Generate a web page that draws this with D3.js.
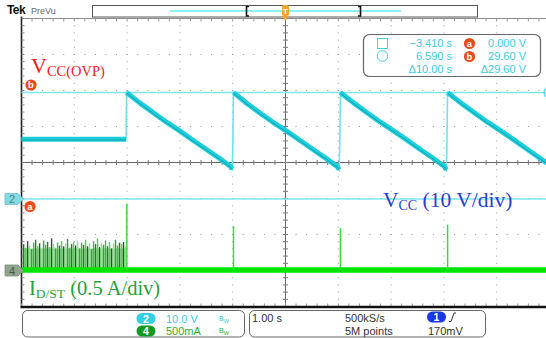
<!DOCTYPE html>
<html><head><meta charset="utf-8">
<script src="https://cdn.jsdelivr.net/npm/d3@7"></script>
<style>html,body{margin:0;padding:0;background:#fff;overflow:hidden}svg{display:block}</style>
</head><body>
<svg id="c" width="546" height="338"></svg>
<script>
// ---------- data ----------
const vccFlat = [[-5, 16.6], [-3.02, 16.6]];
const vccCycles = [
  [[-3.01,29.6],[-2.76,26.7],[-2.51,24.0],[-2.26,21.4],[-2.01,19.0],[-1.76,16.4],[-1.51,13.9],[-1.26,11.4],[-1.04,9.0],[-1.01,8.3]],
  [[-0.985,29.6],[-0.735,26.6],[-0.485,23.9],[-0.235,21.3],[0.015,18.9],[0.265,16.4],[0.515,13.8],[0.765,11.3],[0.985,9.0],[1.015,8.2]],
  [[1.04,29.6],[1.29,26.7],[1.54,24.0],[1.79,21.4],[2.04,19.0],[2.29,16.5],[2.54,13.9],[2.79,11.4],[3.01,9.0],[3.045,8.1]],
  [[3.07,29.6],[3.32,26.7],[3.57,24.0],[3.82,21.4],[4.07,19.0],[4.32,16.5],[4.57,13.9],[4.82,11.3],[5.0,9.6]]
];
const vccKinks = [[-1.0,13.5],[1.025,13.4],[3.055,13.5]];
const idSpikes = [[-3.005,0.92],[-0.985,0.61],[1.04,0.58],[3.07,0.63]];
const idNoise = [0.36,0.31,0.40,0.34,0.29,0.38,0.42,0.33,0.37,0.30,0.41,0.35,0.39,0.32,0.44,0.36,0.30,0.38,0.34,0.40,0.33,0.37,0.43,0.31,0.36,0.39,0.34,0.41,0.30,0.38,0.35,0.42,0.33,0.37,0.29,0.40,0.36,0.44,0.32,0.38,0.35,0.41,0.33,0.39,0.30,0.37,0.42,0.34,0.38,0.36,0.39,0.33];
const idNoiseSpan = [-4.96, -3.03];
const cursorLevels = [0, 29.6];
const readoutTimes = ["\u22123.410 s", "6.590 s", "\u039410.00 s"];
const readoutVolts = ["0.000 V", "29.60 V", "\u039429.60 V"];
const chLabels = ["10.0 V", "500mA"];
const acqLabels = ["1.00 s", "500kS/s", "5M points", "170mV"];

// ---------- setup ----------
const W = 546, H = 338;
const svg = d3.select('#c');
const gl = 21.5, gr = 549.5, gt = 18.5, gb = 306.5;
const x = d3.scaleLinear().domain([-5, 5]).range([gl, gr]);
const yDiv = d3.scaleLinear().domain([4, -4]).range([gt, gb]);
const yV = d3.scaleLinear().domain([0, 40]).range([199, 55]);
const yI = d3.scaleLinear().domain([0, 0.5]).range([270, 234]);
const sans = "'Liberation Sans', Arial, sans-serif";
const serif = "'Liberation Serif', 'Times New Roman', serif";

// ---------- graticule ----------
const grid = svg.append('g');
const minorX = d3.range(-25, 26).map(k => x(k / 5));
const minorY = d3.range(-20, 21).map(k => yDiv(k / 5));
[-4,-3,-2,-1,1,2,3,4].forEach(i => {
  minorY.forEach(yy => grid.append('rect').attr('x', x(i) - 0.5).attr('y', yy - 0.5).attr('width', 1).attr('height', 1).attr('fill', '#9a9a9a'));
});
[-3,-2,-1,1,2,3].forEach(j => {
  minorX.forEach(xx => grid.append('rect').attr('x', xx - 0.5).attr('y', yDiv(j) - 0.5).attr('width', 1).attr('height', 1).attr('fill', '#9a9a9a'));
});
grid.append('line').attr('x1', gl).attr('x2', W).attr('y1', gt).attr('y2', gt).attr('stroke', '#8a8a8a').attr('stroke-width', 1);
minorX.forEach(xx => grid.append('line').attr('x1', xx).attr('x2', xx).attr('y1', gt).attr('y2', gt + 3).attr('stroke', '#999'));
grid.append('line').attr('x1', gl).attr('x2', W).attr('y1', yDiv(0)).attr('y2', yDiv(0)).attr('stroke', '#666').attr('stroke-width', 1);
grid.append('line').attr('x1', x(0)).attr('x2', x(0)).attr('y1', gt).attr('y2', gb).attr('stroke', '#666').attr('stroke-width', 1);
minorX.forEach(xx => grid.append('line').attr('x1', xx).attr('x2', xx).attr('y1', yDiv(0) - 2.5).attr('y2', yDiv(0) + 2.5).attr('stroke', '#777'));
minorY.forEach(yy => grid.append('line').attr('x1', x(0) - 2.5).attr('x2', x(0) + 2.5).attr('y1', yy).attr('y2', yy).attr('stroke', '#777'));
grid.append('line').attr('x1', gl).attr('x2', gl).attr('y1', gt - 2).attr('y2', gb).attr('stroke', '#222').attr('stroke-width', 1.6);
minorY.forEach(yy => grid.append('line').attr('x1', gl).attr('x2', gl + 3).attr('y1', yy).attr('y2', yy).attr('stroke', '#888'));
minorX.forEach(xx => grid.append('line').attr('x1', xx).attr('x2', xx).attr('y1', gb - 3).attr('y2', gb).attr('stroke', '#999'));
grid.append('line').attr('x1', gl - 1).attr('x2', W).attr('y1', gb + 0.5).attr('y2', gb + 0.5).attr('stroke', '#111').attr('stroke-width', 2.4);

// ---------- cursors ----------
cursorLevels.forEach(v => svg.append('line').attr('x1', gl).attr('x2', W).attr('y1', yV(v)).attr('y2', yV(v))
  .attr('stroke', '#7de8f1').attr('stroke-width', 1.4));

// ---------- current trace (ch4) ----------
const cur = svg.append('g');
cur.append('rect').attr('x', x(idNoiseSpan[0])).attr('y', yI(0.3)).attr('width', x(idNoiseSpan[1]) - x(idNoiseSpan[0]))
  .attr('height', yI(0) - yI(0.3)).attr('fill', '#9fe69f');
const noiseColors = ['#237a23', '#55cc55', '#1a5e1a', '#8fe08f', '#2f9f2f', '#40b840'];
idNoise.forEach((h, i) => {
  const t = idNoiseSpan[0] + i * (idNoiseSpan[1] - idNoiseSpan[0]) / (idNoise.length - 1);
  cur.append('line').attr('x1', x(t)).attr('x2', x(t)).attr('y1', yI(0)).attr('y2', yI(h))
    .attr('stroke', noiseColors[i % noiseColors.length]).attr('stroke-width', 1.4);
});
cur.append('line').attr('x1', gl).attr('x2', W).attr('y1', yI(0)).attr('y2', yI(0)).attr('stroke', '#00e400').attr('stroke-width', 5.5);
idSpikes.forEach(d => cur.append('line').attr('x1', x(d[0])).attr('x2', x(d[0])).attr('y1', yI(0)).attr('y2', yI(d[1]))
  .attr('stroke', '#35de35').attr('stroke-width', 1.5));

// ---------- Vcc trace (ch2) ----------
const line = d3.line().x(d => x(d[0])).y(d => yV(d[1]));
const full = [...vccFlat];
vccCycles.forEach((c, i) => { full.push(...c); if (vccKinks[i]) full.push(vccKinks[i]); });
const vg = svg.append('g');
vg.append('path').attr('d', line(full)).attr('fill', 'none').attr('stroke', '#6fe3ec').attr('stroke-width', 1.6);
[vccFlat, ...vccCycles].forEach(seg => {
  vg.append('path').attr('d', line(seg)).attr('fill', 'none').attr('stroke', '#1ccfdc').attr('stroke-width', 5).attr('stroke-linejoin', 'round');
  vg.append('path').attr('d', line(seg)).attr('fill', 'none').attr('stroke', '#0f7f8a').attr('stroke-width', 1).attr('opacity', 0.6)
    .attr('transform', 'translate(0,0.8)');
});

// ---------- left markers ----------
function chMarker(yc, fill, txtColor, label) {
  svg.append('path').attr('d', `M5,${yc - 5.5}H18L23.5,${yc}L18,${yc + 5.5}H5Z`).attr('fill', fill).attr('stroke', d3.color(fill).darker(0.4)).attr('stroke-width', 0.8);
  svg.append('text').attr('x', 12).attr('y', yc + 4).attr('text-anchor', 'middle').attr('font-family', sans).attr('font-size', 11)
    .attr('fill', txtColor).text(label);
}
chMarker(yV(0), '#80dbe4', '#5a7d84', '2');
chMarker(yI(0) + 0.5, '#8fa58f', '#4b5b4b', '4');
function circ(cx, cy, label) {
  svg.append('circle').attr('cx', cx).attr('cy', cy).attr('r', 5.6).attr('fill', '#ea4a18');
  svg.append('text').attr('x', cx).attr('y', cy + 3.3).attr('text-anchor', 'middle').attr('font-family', sans).attr('font-weight', 'bold')
    .attr('font-size', 9.5).attr('fill', '#fff').text(label);
}
circ(31, 85, 'b');
circ(30, 206.5, 'a');
svg.append('circle').attr('cx', 549.5).attr('cy', yV(29.6)).attr('r', 5.5).attr('fill', 'none').attr('stroke', '#40d6e6').attr('stroke-width', 1.2);

// ---------- annotations ----------
const t1 = svg.append('text').attr('x', 31).attr('y', 73).attr('font-family', serif).attr('fill', '#f02020');
t1.append('tspan').attr('font-size', 22).text('V');
t1.append('tspan').attr('font-size', 14.5).attr('dy', 3).text('CC(OVP)');
const t2 = svg.append('text').attr('x', 383).attr('y', 207).attr('font-family', serif).attr('fill', '#2a3fd4');
t2.append('tspan').attr('font-size', 21.5).text('V');
t2.append('tspan').attr('font-size', 14).attr('dy', 2.5).text('CC');
t2.append('tspan').attr('font-size', 21.5).attr('dy', -2.5).text(' (10 V/div)');
const t3 = svg.append('text').attr('x', 29).attr('y', 295).attr('font-family', serif).attr('fill', '#1fa23c');
t3.append('tspan').attr('font-size', 20.5).text('I');
t3.append('tspan').attr('font-size', 13.5).attr('dy', 2.5).text('D/ST');
t3.append('tspan').attr('font-size', 20.5).attr('dy', -2.5).text(' (0.5 A/div)');

// ---------- top bar ----------
svg.append('text').attr('x', 7).attr('y', 14).attr('font-family', sans).attr('font-weight', 'bold').attr('font-size', 12).attr('letter-spacing', -0.6).attr('fill', '#111').text('Tek');
svg.append('text').attr('x', 31).attr('y', 14).attr('font-family', sans).attr('font-size', 9).attr('fill', '#666').text('PreVu');
svg.append('rect').attr('x', 92.5).attr('y', 5.5).attr('width', 385).attr('height', 11.5).attr('fill', '#fff').attr('stroke', '#555').attr('stroke-width', 1);
svg.append('line').attr('x1', 170).attr('x2', 401).attr('y1', 11).attr('y2', 11).attr('stroke', '#8cf0f2').attr('stroke-width', 1.8);
svg.append('path').attr('d', 'M249,6.5H246.5V16H249').attr('fill', 'none').attr('stroke', '#111').attr('stroke-width', 1.6);
svg.append('path').attr('d', 'M358,6.5H360.5V16H358').attr('fill', 'none').attr('stroke', '#111').attr('stroke-width', 1.6);
svg.append('rect').attr('x', x(0) - 3.5).attr('y', 5).attr('width', 7).attr('height', 11).attr('rx', 2).attr('fill', '#f3a52a');
svg.append('text').attr('x', x(0)).attr('y', 14).attr('text-anchor', 'middle').attr('font-family', sans).attr('font-size', 8).attr('font-weight', 'bold').attr('fill', '#fff').text('T');
svg.append('path').attr('d', `M${x(0) - 3.5},16H${x(0) + 3.5}L${x(0)},21Z`).attr('fill', '#f3a52a');

// ---------- cursor readout ----------
svg.append('rect').attr('x', 363.5).attr('y', 34.5).attr('width', 177).attr('height', 42).attr('rx', 6).attr('fill', '#fff').attr('stroke', '#666').attr('stroke-width', 1.2);
svg.append('rect').attr('x', 377.5).attr('y', 38.5).attr('width', 10).attr('height', 10).attr('fill', 'none').attr('stroke', '#40d0e0').attr('stroke-width', 1);
svg.append('circle').attr('cx', 382.5).attr('cy', 56).attr('r', 5.3).attr('fill', 'none').attr('stroke', '#40d0e0').attr('stroke-width', 1);
const rowY = [47, 60, 73];
readoutTimes.forEach((s, i) => svg.append('text').attr('x', 452).attr('y', rowY[i]).attr('text-anchor', 'end').attr('font-family', sans).attr('font-size', 11).attr('fill', '#3ccbdc').text(s));
readoutVolts.forEach((s, i) => svg.append('text').attr('x', 526).attr('y', rowY[i]).attr('text-anchor', 'end').attr('font-family', sans).attr('font-size', 11).attr('fill', '#3ccbdc').text(s));
circ(469.5, 43.5, 'a');
circ(469.5, 56.5, 'b');

// ---------- bottom panels ----------
svg.append('rect').attr('x', 22.5).attr('y', 310.5).attr('width', 222).attr('height', 26.5).attr('rx', 5).attr('fill', '#fff').attr('stroke', '#666').attr('stroke-width', 1);
svg.append('rect').attr('x', 249.5).attr('y', 310.5).attr('width', 236).attr('height', 26.5).attr('rx', 5).attr('fill', '#fff').attr('stroke', '#666').attr('stroke-width', 1);
function pill(cx, cy, fill, label) {
  svg.append('rect').attr('x', cx - 9.5).attr('y', cy - 5.5).attr('width', 19).attr('height', 11).attr('rx', 5.5).attr('fill', fill);
  svg.append('text').attr('x', cx).attr('y', cy + 4).attr('text-anchor', 'middle').attr('font-family', sans).attr('font-size', 10.5).attr('font-weight', 'bold').attr('fill', '#fff').text(label);
}
pill(146, 318.5, '#33d0e2', '2');
pill(146, 331, '#119a22', '4');
const chCol = ['#3ccbdc', '#2eae2e'];
chLabels.forEach((s, i) => {
  svg.append('text').attr('x', 166).attr('y', 322.5 + i * 12.5).attr('font-family', sans).attr('font-size', 11).attr('fill', chCol[i]).text(s);
  const bw = svg.append('text').attr('x', 219).attr('y', 320.5 + i * 12.5).attr('font-family', sans).attr('fill', chCol[i]);
  bw.append('tspan').attr('font-size', 7).text('B');
  bw.append('tspan').attr('font-size', 5.5).attr('dy', 2).text('W');
});
svg.append('text').attr('x', 252).attr('y', 321.5).attr('font-family', sans).attr('font-size', 11).attr('fill', '#333').text(acqLabels[0]);
svg.append('text').attr('x', 345).attr('y', 321.5).attr('font-family', sans).attr('font-size', 11).attr('fill', '#333').text(acqLabels[1]);
svg.append('text').attr('x', 345).attr('y', 335).attr('font-family', sans).attr('font-size', 11).attr('fill', '#333').text(acqLabels[2]);
svg.append('text').attr('x', 428).attr('y', 335).attr('font-family', sans).attr('font-size', 11).attr('fill', '#333').text(acqLabels[3]);
pill(436.5, 317, '#1a36e6', '1');
svg.append('path').attr('d', 'M449,321.5H451L454,313H456').attr('fill', 'none').attr('stroke', '#333').attr('stroke-width', 1);
</script></body></html>
